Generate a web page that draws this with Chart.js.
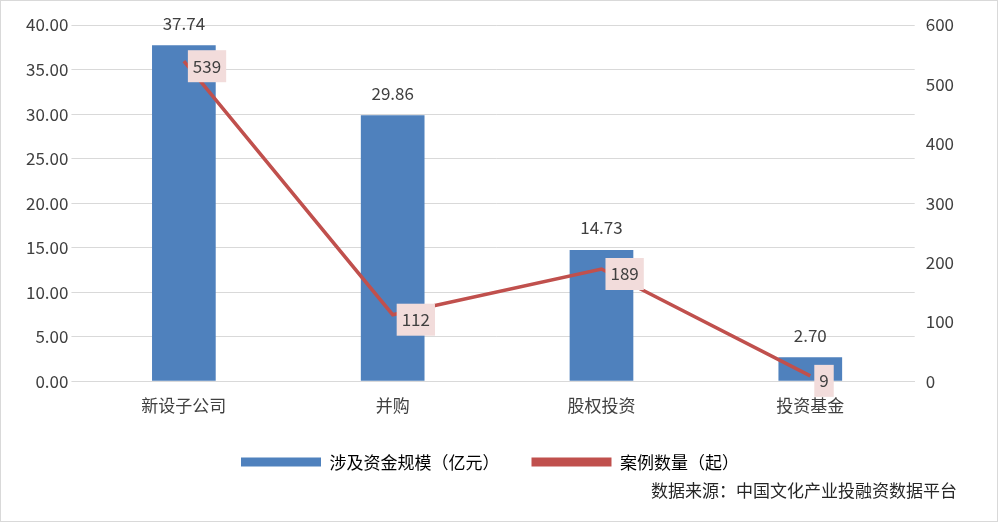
<!DOCTYPE html>
<html>
<head>
<meta charset="utf-8">
<script src="https://cdn.jsdelivr.net/npm/chart.js@4"></script>
<style>
  body { margin: 0; background: #fff; }
  #wrap { width: 996px; height: 520px; border: 1px solid #d9d9d9; }
</style>
</head>
<body>
<div id="wrap"><canvas id="c" width="996" height="520"></canvas></div>
<script>
const categories = ['新设子公司', '并购', '股权投资', '投资基金'];
const amounts = [37.74, 29.86, 14.73, 2.70];
const cases = [539, 112, 189, 9];

const FONT = '"Noto Sans CJK SC", sans-serif';

// bar value labels above, line labels in pink boxes
const labelPlugin = {
  id: 'labels',
  afterDatasetsDraw(chart) {
    const ctx = chart.ctx;
    ctx.save();
    ctx.font = '17px ' + FONT;
    ctx.textBaseline = 'middle';
    chart.getDatasetMeta(0).data.forEach((bar, i) => {
      ctx.fillStyle = '#404040';
      ctx.textAlign = 'center';
      ctx.fillText(amounts[i].toFixed(2), bar.x, bar.y - 22);
    });
    chart.getDatasetMeta(1).data.forEach((pt, i) => {
      const txt = String(cases[i]);
      const w = ctx.measureText(txt).width + 10;
      const x = pt.x + 4, y = pt.y + 5;
      ctx.fillStyle = '#F2DCDB';
      ctx.fillRect(x, y - 16, w, 32);
      ctx.fillStyle = '#404040';
      ctx.textAlign = 'left';
      ctx.fillText(txt, x + 5, y);
    });
    ctx.restore();
  }
};

new Chart(document.getElementById('c'), {
  data: {
    labels: categories,
    datasets: [
      {
        type: 'bar',
        label: '涉及资金规模（亿元）',
        data: amounts,
        backgroundColor: '#4F81BD',
        yAxisID: 'y',
        barPercentage: 0.305,
        categoryPercentage: 1,
        order: 2
      },
      {
        type: 'line',
        label: '案例数量（起）',
        data: cases,
        borderColor: '#C0504D',
        backgroundColor: '#C0504D',
        borderWidth: 3.5,
        pointRadius: 0,
        yAxisID: 'y1',
        order: 1
      }
    ]
  },
  options: {
    responsive: false,
    animation: false,
    layout: { padding: { left: 22, right: 40, top: 24, bottom: 0 } },
    plugins: {
      legend: {
        position: 'bottom',
        labels: {
          font: { family: FONT, size: 17 },
          color: '#404040',
          boxWidth: 80,
          boxHeight: 9,
          padding: 32,
          generateLabels(chart) {
            return chart.data.datasets.map((d, i) => ({
              text: d.label,
              fillStyle: d.backgroundColor,
              strokeStyle: d.borderColor || d.backgroundColor,
              lineWidth: 0,
              datasetIndex: i
            }));
          }
        }
      },
      subtitle: {
        display: true,
        position: 'bottom',
        align: 'end',
        text: '数据来源：中国文化产业投融资数据平台',
        color: '#262626',
        font: { family: FONT, size: 17 },
        padding: { top: 0, bottom: 20 }
      },
      tooltip: { enabled: false }
    },
    scales: {
      x: {
        grid: { display: false },
        border: { color: '#d9d9d9' },
        ticks: { color: '#404040', font: { family: FONT, size: 17 }, padding: 6 }
      },
      y: {
        position: 'left',
        min: 0, max: 40,
        ticks: { stepSize: 5, color: '#404040', font: { family: FONT, size: 17 }, callback: v => v.toFixed(2) },
        grid: { color: '#d9d9d9' },
        border: { display: false }
      },
      y1: {
        position: 'right',
        min: 0, max: 600,
        ticks: { stepSize: 100, color: '#404040', font: { family: FONT, size: 17 } },
        grid: { display: false },
        border: { display: false }
      }
    }
  },
  plugins: [labelPlugin]
});
</script>
</body>
</html>
